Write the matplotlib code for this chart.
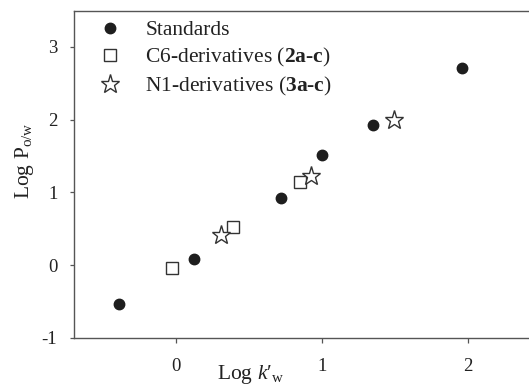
import matplotlib
matplotlib.use("Agg")
import matplotlib.pyplot as plt

# Log k'w vs Log Po/w
std_x = [-0.39, 0.12, 0.72, 1.00, 1.35, 1.96]
std_y = [-0.53, 0.09, 0.92, 1.51, 1.92, 2.71]
c6_x = [-0.03, 0.39, 0.85]
c6_y = [-0.04, 0.52, 1.14]
n1_x = [0.31, 0.92, 1.49]
n1_y = [0.42, 1.23, 2.00]

x_ticks = [0, 1, 2]
y_ticks = [-1, 0, 1, 2, 3]

plt.rcParams['font.family'] = ['Liberation Serif', 'DejaVu Serif']
plt.rcParams['mathtext.fontset'] = 'custom'
plt.rcParams['mathtext.rm'] = 'Liberation Serif'
plt.rcParams['mathtext.it'] = 'Liberation Serif:italic'
plt.rcParams['mathtext.bf'] = 'Liberation Serif:bold'

W, H = 529, 388
fig = plt.figure(figsize=(W / 100, H / 100), dpi=100)
ax = fig.add_axes([74 / W, 1 - 338 / H, (534 - 74) / W, (338 - 11) / H])

ink = '#1e1e1e'
ax.plot(std_x, std_y, 'o', ms=7.5, color=ink, mec=ink, ls='none', label='Standards')
ax.plot(c6_x, c6_y, 's', ms=8, mfc='white', mec='#333333', mew=1.0, ls='none',
        label='C6-derivatives ($\\mathbf{2a}$-$\\mathbf{c}$)')
ax.plot(n1_x, n1_y, '*', ms=14, mfc='white', mec='#333333', mew=1.0, ls='none',
        label='N1-derivatives ($\\mathbf{3a}$-$\\mathbf{c}$)')

ax.set_xlim(-0.7, 2.45)
ax.set_ylim(-1, 3.49)
ax.set_xticks(x_ticks)
ax.set_yticks(y_ticks)
ax.set_xticklabels([str(v) for v in x_ticks])
ax.set_yticklabels([str(v) for v in y_ticks])

ax.spines['right'].set_visible(False)
for s in ['left', 'top', 'bottom']:
    ax.spines[s].set_color('#555555')
    ax.spines[s].set_linewidth(1.0)
ax.tick_params(axis='x', direction='out', length=3.6, width=0.9, color='#555555',
               pad=11, labelsize=13.5, labelcolor='#222222')
ax.tick_params(axis='y', direction='out', length=3, width=0.9, color='#555555',
               pad=9, labelsize=13.5, labelcolor='#222222')

fig.text(251 / W, 1 - 375 / H, "Log $k$\u2032$_{\\mathrm{w}}$", ha='center', va='center',
         fontsize=15.5, color='#222222')
fig.text(25 / W, 1 - 161 / H, 'Log P$_{\\mathrm{o/w}}$', ha='center', va='center',
         rotation=90, fontsize=15.5, color='#222222')

leg = ax.legend(loc='upper left', bbox_to_anchor=(0.045, 0.985), frameon=False,
                fontsize=15.5, handlelength=1.0, handletextpad=1.15,
                labelspacing=0.27, borderpad=0.2, borderaxespad=0)
for t in leg.get_texts():
    t.set_color('#222222')

fig.savefig('out.png', dpi=100)
